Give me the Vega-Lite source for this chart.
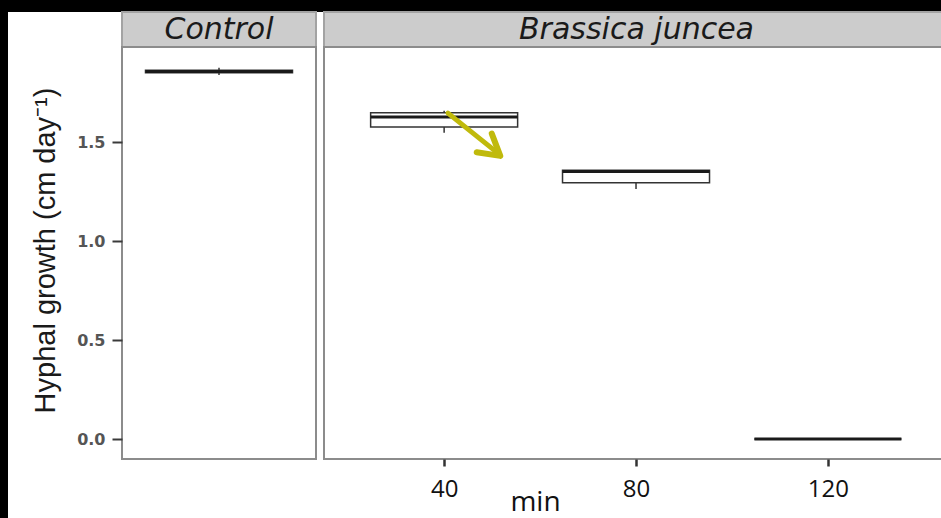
{
  "$schema": "https://vega.github.io/schema/vega-lite/v6.json",
  "background": "white",
  "padding": 0,
  "config": {
    "view": {"stroke": null},
    "axis": {"grid": false, "domain": false, "ticks": true}
  },
  "datasets": {
    "control": [
      {"group": "Control", "lower": 1.838, "q1": 1.850, "median": 1.856, "q3": 1.862, "upper": 1.875}
    ],
    "brassica": [
      {"min": 40, "lower": 1.547, "q1": 1.576, "median": 1.626, "q3": 1.648, "upper": 1.658},
      {"min": 80, "lower": 1.263, "q1": 1.294, "median": 1.351, "q3": 1.358, "upper": 1.358},
      {"min": 120, "lower": 0, "q1": 0, "median": 0, "q3": 0, "upper": 0}
    ],
    "arrow": [
      {"min": 40.8, "lower": 1.646},
      {"min": 51.2, "lower": 1.444}
    ],
    "arrowhead": [
      {"min": 51.7, "lower": 1.43}
    ],
    "stripControl": [{"label": "Control"}],
    "stripBrassica": [{"label": "Brassica juncea"}],
    "empty": []
  },
  "concat": [
    {"width": 8, "height": 12, "view": {"fill": "black", "stroke": null}, "data": {"name": "empty"}, "mark": "point", "encoding": {}},
    {"width": 114, "height": 12, "view": {"fill": "black", "stroke": null}, "data": {"name": "empty"}, "mark": "point", "encoding": {}},
    {"width": 194, "height": 12, "view": {"fill": "black", "stroke": null}, "data": {"name": "empty"}, "mark": "point", "encoding": {}},
    {"width": 8, "height": 12, "view": {"fill": "black", "stroke": null}, "data": {"name": "empty"}, "mark": "point", "encoding": {}},
    {"width": 625, "height": 12, "view": {"fill": "black", "stroke": null}, "data": {"name": "empty"}, "mark": "point", "encoding": {}},

    {"width": 8, "height": 35, "view": {"fill": "black", "stroke": null}, "data": {"name": "empty"}, "mark": "point", "encoding": {}},
    {"width": 114, "height": 35, "data": {"name": "empty"}, "mark": "point", "encoding": {}},
    {
      "width": 194, "height": 35,
      "view": {"fill": "#cccccc", "stroke": "#a3a3a3", "strokeWidth": 2},
      "data": {"name": "stripControl"},
      "mark": {"type": "text", "font": "DejaVu Sans", "fontStyle": "italic", "fontSize": 30, "color": "#1a1a1a", "baseline": "middle", "align": "center"},
      "encoding": {"text": {"field": "label"}}
    },
    {"width": 8, "height": 35, "data": {"name": "empty"}, "mark": "point", "encoding": {}},
    {
      "width": 625, "height": 35,
      "view": {"fill": "#cccccc", "stroke": "#a3a3a3", "strokeWidth": 2},
      "data": {"name": "stripBrassica"},
      "mark": {"type": "text", "font": "DejaVu Sans", "fontStyle": "italic", "fontSize": 30, "color": "#1a1a1a", "baseline": "middle", "align": "center"},
      "encoding": {"text": {"field": "label"}}
    },

    {"width": 8, "height": 412, "view": {"fill": "black", "stroke": null}, "data": {"name": "empty"}, "mark": "point", "encoding": {}},
    {"width": 114, "height": 412, "data": {"name": "empty"}, "mark": "point", "encoding": {}},
    {
      "width": 194, "height": 412,
      "view": {"fill": "white", "stroke": "#8c8c8c", "strokeWidth": 2},
      "data": {"name": "control"},
      "encoding": {
        "x": {"field": "group", "type": "nominal", "axis": null, "scale": {"paddingInner": 0, "paddingOuter": 0}},
        "y": {
          "field": "lower", "type": "quantitative",
          "scale": {"domain": [-0.101, 1.98], "nice": false, "zero": false},
          "axis": {
            "values": [0, 0.5, 1, 1.5], "format": ".1f",
            "ticks": true, "tickOpacity": 1, "zindex": 2,
            "tickSize": 10, "tickWidth": 2, "tickColor": "#3a3a3a",
            "labelFont": "DejaVu Sans", "labelFontWeight": "bold", "labelFontSize": 16, "labelColor": "#555555", "labelPadding": 7,
            "title": "Hyphal growth (cm day⁻¹)",
            "titleFont": "Liberation Sans", "titleFontSize": 29, "titleFontWeight": "normal", "titleColor": "#1a1a1a",
            "titleAngle": -90, "titleAlign": "center", "titleBaseline": "alphabetic",
            "titleX": -68, "titleY": 203
          }
        }
      },
      "layer": [
        {
          "mark": {"type": "rule", "stroke": "#333333", "strokeWidth": 1.5},
          "encoding": {"y2": {"field": "upper"}}
        },
        {
          "mark": {"type": "bar", "width": 147, "fill": "white", "stroke": "#333333", "strokeWidth": 1.5},
          "encoding": {"y": {"field": "q1", "type": "quantitative", "title": "Hyphal growth (cm day⁻¹)"}, "y2": {"field": "q3"}}
        },
        {
          "mark": {"type": "bar", "width": 147, "fill": "#1a1a1a", "stroke": "#1a1a1a", "strokeWidth": 3},
          "encoding": {"y": {"field": "median", "type": "quantitative", "title": "Hyphal growth (cm day⁻¹)"}, "y2": {"field": "median"}}
        }
      ]
    },
    {"width": 8, "height": 412, "data": {"name": "empty"}, "mark": "point", "encoding": {}},
    {
      "width": 625, "height": 412,
      "view": {"fill": "white", "stroke": "#8c8c8c", "strokeWidth": 2},
      "encoding": {
        "x": {
          "field": "min", "type": "quantitative",
          "scale": {"domain": [16, 144.2], "nice": false, "zero": false},
          "axis": {
            "values": [40, 80, 120],
            "ticks": true, "tickOpacity": 1, "zindex": 2,
            "tickSize": 7, "tickWidth": 2.5, "tickColor": "#333333",
            "labelFont": "Open Sans", "labelFontSize": 24, "labelColor": "#111111", "labelPadding": 30, "labelBaseline": "alphabetic",
            "title": "min",
            "titleFont": "Open Sans", "titleFontSize": 28, "titleFontWeight": "normal", "titleColor": "#111111",
            "titleAlign": "center", "titleBaseline": "alphabetic", "titleX": 211, "titleY": 51
          }
        },
        "y": {"field": "lower", "type": "quantitative", "scale": {"domain": [-0.101, 1.98], "nice": false, "zero": false}, "axis": null}
      },
      "layer": [
        {
          "data": {"name": "brassica"},
          "mark": {"type": "rule", "stroke": "#333333", "strokeWidth": 1.5},
          "encoding": {"y2": {"field": "upper"}}
        },
        {
          "data": {"name": "brassica"},
          "mark": {"type": "bar", "width": 147, "fill": "white", "stroke": "#333333", "strokeWidth": 1.5},
          "encoding": {"y": {"field": "q1", "type": "quantitative", "axis": null}, "y2": {"field": "q3"}}
        },
        {
          "data": {"name": "brassica"},
          "mark": {"type": "bar", "width": 147, "fill": "#1a1a1a", "stroke": "#1a1a1a", "strokeWidth": 3},
          "encoding": {"y": {"field": "median", "type": "quantitative", "axis": null}, "y2": {"field": "median"}}
        },
        {
          "data": {"name": "arrow"},
          "mark": {"type": "line", "stroke": "#c0ba0c", "strokeWidth": 5, "strokeCap": "round"}
        },
        {
          "data": {"name": "arrowhead"},
          "mark": {"type": "point", "shape": "M -0.58 1 L 0 0 L 0.58 1", "size": 1700, "angle": 129, "filled": false, "stroke": "#c0ba0c", "strokeWidth": 6, "strokeCap": "round", "strokeJoin": "round", "opacity": 1}
        }
      ]
    },

    {"width": 8, "height": 59, "view": {"fill": "black", "stroke": null}, "data": {"name": "empty"}, "mark": "point", "encoding": {}},
    {"width": 114, "height": 59, "data": {"name": "empty"}, "mark": "point", "encoding": {}},
    {"width": 194, "height": 59, "data": {"name": "empty"}, "mark": "point", "encoding": {}},
    {"width": 8, "height": 59, "data": {"name": "empty"}, "mark": "point", "encoding": {}},
    {"width": 625, "height": 59, "data": {"name": "empty"}, "mark": "point", "encoding": {}}
  ],
  "columns": 5,
  "spacing": 0,
  "bounds": "flush",
  "align": "each"
}
